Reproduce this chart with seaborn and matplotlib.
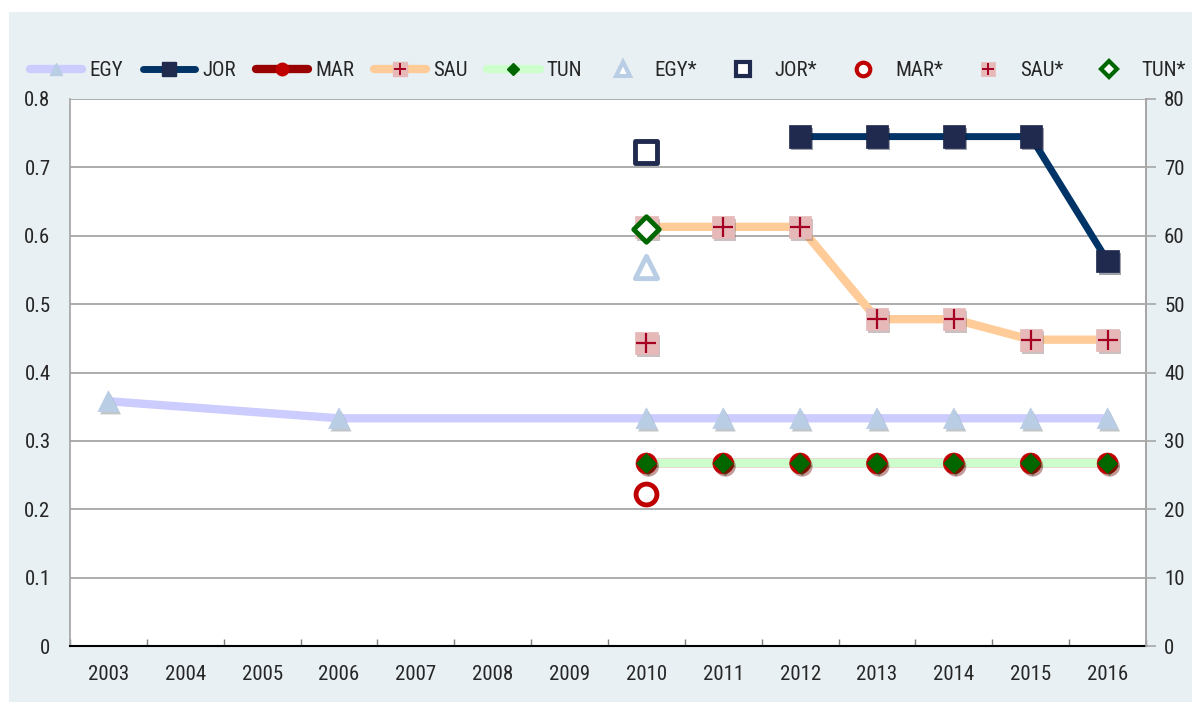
import numpy as np
import pandas as pd
import seaborn as sns
import matplotlib.pyplot as plt
import matplotlib.patheffects as pe
from matplotlib import font_manager
from matplotlib.lines import Line2D
from matplotlib.patches import Rectangle
from matplotlib.legend_handler import HandlerTuple

years = ["2003", "2004", "2005", "2006", "2007", "2008", "2009",
         "2010", "2011", "2012", "2013", "2014", "2015", "2016"]
nan = np.nan
egy = [0.358, nan, nan, 0.333, nan, nan, nan, 0.333, 0.333, 0.333, 0.333, 0.333, 0.333, 0.333]
jor = [nan, nan, nan, nan, nan, nan, nan, nan, nan, 0.745, 0.745, 0.745, 0.745, 0.563]
mar = [nan, nan, nan, nan, nan, nan, nan, 0.267, 0.267, 0.267, 0.267, 0.267, 0.267, 0.267]
sau = [nan, nan, nan, nan, nan, nan, nan, 0.613, 0.613, 0.613, 0.478, 0.478, 0.448, 0.448]
tun = [nan, nan, nan, nan, nan, nan, nan, 0.267, 0.267, 0.267, 0.267, 0.267, 0.267, 0.267]

# starred series (right axis, 2010 only)
star_year = "2010"
egy_star = 55.5
jor_star = 72.2
mar_star = 22.2
sau_star = 44.3
tun_star = 61.0

BG = "#e8f0f3"

# pick a narrow font if one is installed
names = {f.name for f in font_manager.fontManager.ttflist}
condensed = [f for f in font_manager.fontManager.ttflist
             if f.name == "DejaVu Sans" and "ondensed" in str(f.stretch) + f.fname]
if "Liberation Sans Narrow" in names:
    FONT, STRETCH = ["Liberation Sans Narrow", "DejaVu Sans"], "normal"
elif "Roboto Condensed" in names:
    FONT, STRETCH = ["Roboto Condensed", "DejaVu Sans"], "normal"
elif condensed:
    FONT, STRETCH = ["DejaVu Sans"], "condensed"
else:
    FONT, STRETCH = ["Roboto", "DejaVu Sans"], "normal"

sns.set_theme(style="white")
plt.rcParams["font.family"] = FONT
plt.rcParams["font.stretch"] = STRETCH

df = pd.DataFrame({"year": years, "EGY": egy, "JOR": jor, "MAR": mar,
                   "SAU": sau, "TUN": tun})
df["x"] = np.arange(len(years))

styles = {
    "EGY": dict(line="#ccccff", lw=6, marker="^", ms=15, face="#b9cde5", edge="#b9cde5"),
    "JOR": dict(line="#003366", lw=5, marker="s", ms=16, face="#1f2a4e", edge="#1f2a4e"),
    "MAR": dict(line="#990000", lw=6, marker="o", ms=15, face="#c00000", edge="#c00000"),
    "SAU": dict(line="#ffcc99", lw=6, marker="s", ms=16, face="#e6b9b8", edge="#e6b9b8"),
    "TUN": dict(line="#ccffcc", lw=6, marker="D", ms=10, face="#006600", edge="#006600"),
}

fig = plt.figure(figsize=(11.92, 7.02), dpi=100)
fig.patch.set_facecolor("white")
fig.patches.append(Rectangle((9 / 1192, 0), 1, 1 - 12 / 702, transform=fig.transFigure,
                             facecolor=BG, edgecolor="none", zorder=-10))
ax = fig.add_axes([70 / 1192, 1 - 646 / 702, (1146 - 70) / 1192, (646 - 99) / 702])
ax.set_facecolor("white")

shadow = [pe.SimplePatchShadow(offset=(1.5, -2), alpha=0.4, rho=0.55), pe.Normal()]

# lines first
for name, st in styles.items():
    d = df.dropna(subset=[name])
    sns.lineplot(data=d, x="x", y=name, ax=ax, color=st["line"], linewidth=st["lw"],
                 solid_capstyle="round", sort=False, legend=False, zorder=3)

# then markers
for name, st in styles.items():
    d = df.dropna(subset=[name])
    sns.scatterplot(data=d, x="x", y=name, ax=ax, marker=st["marker"], s=st["ms"] ** 2,
                    color=st["face"], edgecolor=st["edge"], linewidth=0.5,
                    legend=False, zorder=4).collections[-1].set_path_effects(shadow)
    if name == "SAU":
        sns.scatterplot(data=d, x="x", y=name, ax=ax, marker="+", s=15 ** 2,
                        color="#a50021", linewidth=1.6, legend=False, zorder=5)

ax.set_xlim(-0.5, len(years) - 0.5)
ax.set_ylim(0, 0.8)
ax.set_yticks(np.arange(0, 0.81, 0.1))
ax.set_yticklabels(["0", "0.1", "0.2", "0.3", "0.4", "0.5", "0.6", "0.7", "0.8"])
ax.set_xticks(df["x"])
ax.set_xticklabels(years)
ax.set_xticks(np.arange(-0.5, len(years)), minor=True)
ax.tick_params(axis="x", which="major", length=0, pad=14, labelsize=15)
ax.tick_params(axis="x", which="minor", length=5, direction="in", color="#7f7f7f", width=1, bottom=True)
ax.tick_params(axis="y", length=0, pad=14, labelsize=15)
ax.grid(axis="y", color="#a6a6a6", linewidth=1.3)
ax.set_axisbelow(True)
ax.set_xlabel("")
ax.set_ylabel("")
ax.spines["top"].set_visible(False)
ax.spines["left"].set_color("#a6a6a6")
ax.spines["right"].set_color("#a6a6a6")
ax.spines["bottom"].set_color("black")
ax.spines["bottom"].set_linewidth(1.5)

# right axis with starred values
ax2 = ax.twinx()
ax2.set_ylim(0, 80)
ax2.set_yticks(np.arange(0, 81, 10))
ax2.tick_params(axis="y", length=7, color="#a6a6a6", width=1.2, pad=6, labelsize=15)
for s in ["top", "left", "bottom"]:
    ax2.spines[s].set_visible(False)
ax2.spines["right"].set_color("#a6a6a6")
ax2.spines["right"].set_linewidth(1.2)

sx = years.index(star_year)
stars = pd.DataFrame({"x": [sx] * 5,
                      "y": [egy_star, jor_star, mar_star, sau_star, tun_star],
                      "name": ["EGY*", "JOR*", "MAR*", "SAU*", "TUN*"]})
star_style = {
    "EGY*": dict(marker="^", s=16, face="white", edge="#b9cde5", lw=3.5),
    "JOR*": dict(marker="s", s=16, face="white", edge="#1f2a4e", lw=3.5),
    "MAR*": dict(marker="o", s=15, face="white", edge="#c00000", lw=3.5),
    "SAU*": dict(marker="s", s=16, face="#e6b9b8", edge="#e6b9b8", lw=0.5),
    "TUN*": dict(marker="D", s=13, face="white", edge="#006600", lw=3.5),
}
for _, row in stars.iterrows():
    st = star_style[row["name"]]
    coll = sns.scatterplot(x=[row["x"]], y=[row["y"]], ax=ax2, marker=st["marker"],
                           s=st["s"] ** 2, color=st["face"], edgecolor=st["edge"],
                           linewidth=st["lw"], legend=False, zorder=4).collections[-1]
    if row["name"] == "SAU*":
        coll.set_path_effects(shadow)
        sns.scatterplot(x=[row["x"]], y=[row["y"]], ax=ax2, marker="+", s=15 ** 2,
                        color="#a50021", linewidth=1.6, legend=False, zorder=5)
ax2.set_xlim(-0.5, len(years) - 0.5)
ax2.set_ylabel("")

# legends
h1, l1 = [], []
for name, st in styles.items():
    ln = Line2D([], [], color=st["line"], linewidth=st["lw"], solid_capstyle="round")
    mk = Line2D([], [], linestyle="none", marker=st["marker"], markersize=st["ms"] * 0.6,
                markerfacecolor=st["face"], markeredgecolor=st["edge"])
    if name == "SAU":
        plus = Line2D([], [], linestyle="none", marker="+", markersize=8,
                      markeredgecolor="#a50021", markeredgewidth=1.4)
        h1.append((ln, mk, plus))
    else:
        h1.append((ln, mk))
    l1.append(name)

h2, l2 = [], []
for name, st in star_style.items():
    mk = Line2D([], [], linestyle="none", marker=st["marker"], markersize=st["s"] * 0.65,
                markerfacecolor=st["face"], markeredgecolor=st["edge"],
                markeredgewidth=min(st["lw"], 3.0))
    if name == "SAU*":
        plus = Line2D([], [], linestyle="none", marker="+", markersize=8,
                      markeredgecolor="#a50021", markeredgewidth=1.4)
        h2.append((mk, plus))
    else:
        h2.append((mk,))
    l2.append(name)

tup = {tuple: HandlerTuple(ndivide=1)}
fig.legend(h1, l1, loc="center left", bbox_to_anchor=(30 / 1192, 1 - 71 / 702),
           ncol=5, frameon=False, fontsize=15, handlelength=2.5, handletextpad=0.35,
           columnspacing=0.95, handler_map=tup, borderaxespad=0, borderpad=0)
fig.legend(h2, l2, loc="center left", bbox_to_anchor=(597 / 1192, 1 - 71 / 702),
           ncol=5, frameon=False, fontsize=15, handlelength=2.47, handletextpad=0.3,
           columnspacing=0.95, handler_map=tup, borderaxespad=0, borderpad=0)

fig.savefig("out.png", dpi=100, facecolor=fig.get_facecolor())
